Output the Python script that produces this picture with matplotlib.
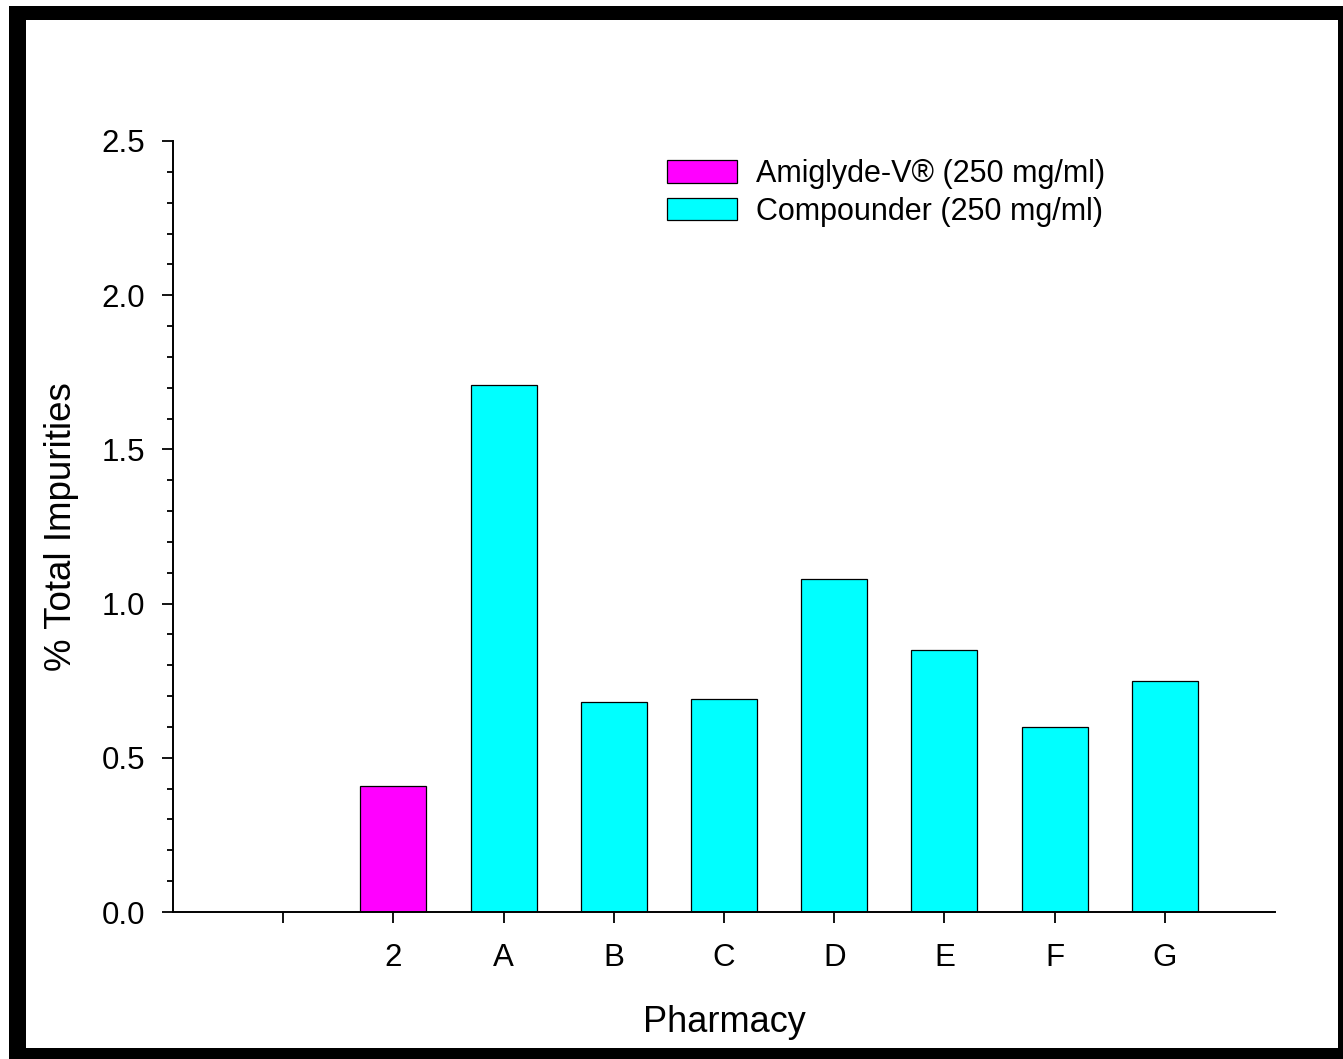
import numpy as np
import matplotlib
matplotlib.use('Agg')
import matplotlib.pyplot as plt
from matplotlib.patches import Rectangle, Patch
from matplotlib.ticker import MultipleLocator

plt.rcParams['font.family'] = ['Liberation Sans', 'DejaVu Sans']

# data
tick_labels = ['', '2', 'A', 'B', 'C', 'D', 'E', 'F', 'G']
brand_labels = ['2']
brand_values = [0.41]
comp_labels = ['A', 'B', 'C', 'D', 'E', 'F', 'G']
comp_values = [1.71, 0.68, 0.69, 1.08, 0.85, 0.60, 0.75]
legend_labels = ['Amiglyde-V\u00ae (250 mg/ml)', 'Compounder (250 mg/ml)']

W, H = 1343, 1059
fig = plt.figure(figsize=(W / 100, H / 100), dpi=100)
ax = fig.add_axes([173 / W, 1 - 912 / H, (1275 - 173) / W, (912 - 141) / H])

pos = {lab: i + 1 for i, lab in enumerate(tick_labels)}
bw = 0.6
ax.bar([pos[l] for l in brand_labels], brand_values, width=bw,
       color='#ff00ff', edgecolor='black', linewidth=0.9, zorder=2)
ax.bar([pos[l] for l in comp_labels], comp_values, width=bw,
       color='#00ffff', edgecolor='black', linewidth=0.9, zorder=2)

ax.set_xlim(0, 10)
ax.set_ylim(0, 2.5)
ax.set_xticks(np.arange(1, len(tick_labels) + 1))
ax.set_xticklabels(tick_labels)
ax.yaxis.set_major_locator(MultipleLocator(0.5))
ax.yaxis.set_minor_locator(MultipleLocator(0.1))
ax.yaxis.set_major_formatter(matplotlib.ticker.FormatStrFormatter('%.1f'))

for s in ['top', 'right']:
    ax.spines[s].set_visible(False)
for s in ['left', 'bottom']:
    ax.spines[s].set_linewidth(1.4)

ax.tick_params(axis='y', which='major', length=8, width=1.3, labelsize=22.5, pad=12)
ax.tick_params(axis='y', which='minor', length=4.5, width=1.3)
ax.tick_params(axis='x', which='major', length=8, width=1.3, labelsize=22.5, pad=14)

ax.set_xlabel('Pharmacy', fontsize=26, labelpad=23)
ax.set_ylabel('% Total Impurities', fontsize=26.5, labelpad=16)

handles = [Patch(facecolor='#ff00ff', edgecolor='black', linewidth=0.9),
           Patch(facecolor='#00ffff', edgecolor='black', linewidth=0.9)]
fig.legend(handles, legend_labels, loc='upper left',
           bbox_to_anchor=(667 / W, 1 - 159 / H), frameon=False,
           fontsize=22, borderpad=0, borderaxespad=0,
           handlelength=2.3, handleheight=0.75, handletextpad=0.6,
           labelspacing=0.25)

# black frame around the figure
frame = [(9, 6, 17, 1053), (9, 6, 1334, 14), (1338, 6, 5, 1053), (9, 1048, 1334, 11)]
for x, y, w, h in frame:
    fig.patches.append(Rectangle((x / W, 1 - (y + h) / H), w / W, h / H,
                                 transform=fig.transFigure, facecolor='black',
                                 edgecolor='none', zorder=10))

fig.savefig('out.png', dpi=100)
